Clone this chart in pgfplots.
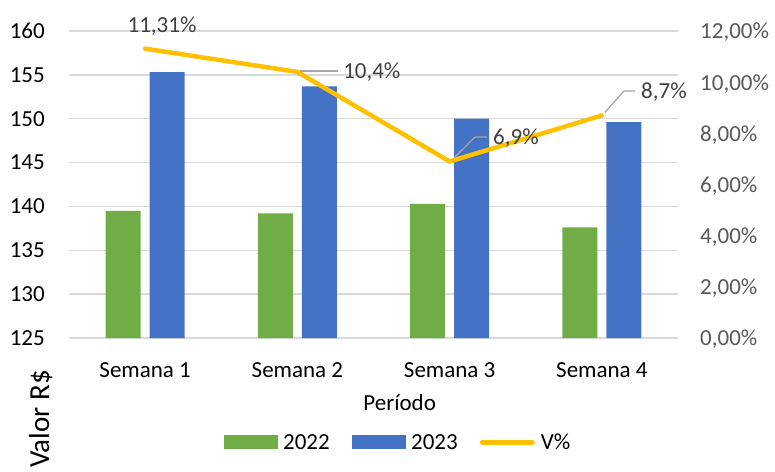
\documentclass[border=0pt]{standalone}
\usepackage{fontspec}
\setmainfont{Carlito}
\usepackage{pgfplots}
\pgfplotsset{compat=1.18}
\definecolor{cgreen}{HTML}{70AD47}
\definecolor{cblue}{HTML}{4472C4}
\definecolor{cyellow}{HTML}{FFC000}
\definecolor{cgrid}{HTML}{D9D9D9}
\definecolor{clab}{HTML}{404040}
\definecolor{cright}{HTML}{595959}
\definecolor{clead}{HTML}{A6A6A6}
\newcommand{\bigf}{\fontsize{23}{27}\selectfont}
\begin{document}
\begin{tikzpicture}
\useasboundingbox (0pt,0pt) rectangle (775pt,471pt);
\begin{axis}[
  at={(69pt,133pt)}, anchor=south west, scale only axis,
  width=609pt, height=307pt,
  xmin=-0.5, xmax=3.5, ymin=125, ymax=160,
  axis line style={draw=none}, major tick length=0pt,
  xtick={0,1,2,3}, xticklabels={Semana 1,Semana 2,Semana 3,Semana 4},
  ytick={125,130,...,160}, yticklabels={125,130,135,140,145,150,155,160},
  ymajorgrids, grid style={cgrid, line width=1.5pt},
  tick label style={font=\bigf, text depth=0pt},
  xticklabel style={anchor=center, yshift=-32pt},
  yticklabel style={anchor=east, inner sep=0pt, xshift=-24pt},
  xlabel={Período},
  xlabel style={at={(axis description cs:0.543,0)}, anchor=center, yshift=-65pt, font=\bigf},
]
\addplot[ybar, bar width=35pt, bar shift=-22pt, fill=cgreen, draw=none]
  coordinates {(0,139.5) (1,139.2) (2,140.3) (3,137.6)};
\addplot[ybar, bar width=35pt, bar shift=22pt, fill=cblue, draw=none]
  coordinates {(0,155.3) (1,153.7) (2,150.0) (3,149.6)};
\end{axis}
\begin{axis}[
  at={(69pt,133pt)}, anchor=south west, scale only axis,
  width=609pt, height=307pt,
  xmin=-0.5, xmax=3.5, ymin=0, ymax=12, clip=false,
  axis line style={draw=none}, major tick length=0pt,
  xtick=\empty, ytick={0,2,4,6,8,10,12},
  yticklabels={{0,00\%},{2,00\%},{4,00\%},{6,00\%},{8,00\%},{10,00\%},{12,00\%}},
  yticklabel pos=right,
  yticklabel style={anchor=west, inner sep=0pt, xshift=22pt, font=\bigf, text depth=0pt, text=cright},
  legend columns=3,
  legend style={at={(axis description cs:0.5386,-0.3388)}, anchor=center, draw=none, fill=none,
    font=\bigf, inner sep=0pt, column sep=6pt,
    /tikz/every even column/.append style={column sep=22pt},
    nodes={inner sep=0pt, text depth=0pt}},
]
\addlegendimage{legend image code/.code={\fill[cgreen] (0pt,-6.5pt) rectangle (53pt,6.5pt);}}
\addlegendentry{2022}
\addlegendimage{legend image code/.code={\fill[cblue] (0pt,-6.5pt) rectangle (53pt,6.5pt);}}
\addlegendentry{2023}
\addplot[color=cyellow, line width=4.5pt, line cap=round, line join=round, no marks,
  legend image code/.code={\draw[cyellow, line width=5pt, line cap=round] (2.5pt,0pt) -- (52.5pt,0pt);}]
  coordinates {(0,11.31) (1,10.4) (2,6.9) (3,8.7)};
\addlegendentry{V\%}
\draw[clead, line width=1.3pt] (axis cs:1.02,10.44) -- (axis cs:1.267,10.44);
\draw[clead, line width=1.3pt] (axis cs:2.03,7.05) -- (axis cs:2.167,7.856) -- (axis cs:2.245,7.856);
\draw[clead, line width=1.3pt] (axis cs:3.02,8.82) -- (axis cs:3.145,9.655) -- (axis cs:3.218,9.655);
\node[text=clab, font=\bigf, text depth=0pt] at (axis cs:0.111,12.23) {11,31\%};
\node[text=clab, font=\bigf, text depth=0pt, anchor=west, inner sep=0pt] at (axis cs:1.30,10.44) {10,4\%};
\node[text=clab, font=\bigf, text depth=0pt, anchor=west, inner sep=0pt] at (axis cs:2.285,7.856) {6,9\%};
\node[text=clab, font=\bigf, text depth=0pt, anchor=west, inner sep=0pt] at (axis cs:3.257,9.655) {8,7\%};
\end{axis}
\node[rotate=90, anchor=base east, inner sep=0pt, font=\fontsize{29}{34}\selectfont] at (49pt,101pt) {Valor R\$};
\end{tikzpicture}
\end{document}
